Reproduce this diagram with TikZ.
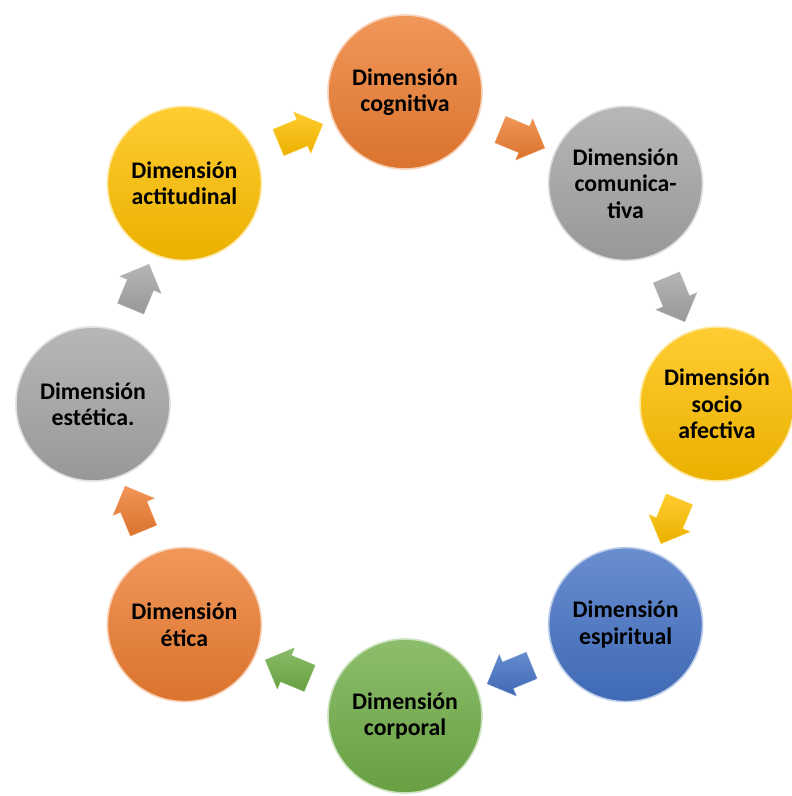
\documentclass[tikz,border=0pt]{standalone}
\usepackage{fontspec}
\setmainfont{Carlito}
\usetikzlibrary{shapes.arrows,calc}
\definecolor{corange}{HTML}{ED7D31}
\definecolor{cgray}{HTML}{A5A5A5}
\definecolor{cgold}{HTML}{FFC000}
\definecolor{cblue}{HTML}{4472C4}
\definecolor{cgreen}{HTML}{70AD47}
\tikzset{
  dimball/.style={circle, minimum size=154pt, inner sep=0pt,
    top color=#1!80!white, middle color=#1, bottom color=#1!92!black,
    draw=#1!35!white, line width=1.6pt, align=center,
    font=\fontsize{23.8}{26.5}\selectfont\bfseries, text=black},
  flowarrow/.style={single arrow, minimum height=48pt,
    inner xsep=0pt, inner ysep=14pt, text height=0pt, text depth=0pt,
    single arrow head extend=8pt,
    top color=#1!82!white, bottom color=#1!92!black, draw=#1!80!white, line width=0.4pt}
}
\begin{document}
\begin{tikzpicture}
\useasboundingbox[fill=white] (0,0) rectangle (792pt,796pt);
\coordinate (c) at (405pt,392pt);
% circles
\node[dimball=corange] (cog) at ($(c)+(90:312pt)$) {Dimensión\\cognitiva};
\node[dimball=cgray]   (com) at ($(c)+(45:312pt)$) {Dimensión\\comunica-\\tiva};
\node[dimball=cgold]   (soc) at ($(c)+(0:312pt)$) {Dimensión\\socio\\afectiva};
\node[dimball=cblue]   (esp) at ($(c)+(-45:312pt)$) {Dimensión\\espiritual};
\node[dimball=cgreen]  (cor) at ($(c)+(-90:312pt)$) {Dimensión\\corporal};
\node[dimball=corange] (eti) at ($(c)+(-135:312pt)$) {Dimensión\\ética};
\node[dimball=cgray]   (est) at ($(c)+(180:312pt)$) {Dimensión\\estética.};
\node[dimball=cgold]   (act) at ($(c)+(135:312pt)$) {Dimensión\\actitudinal};
% arrows
\node[flowarrow=corange, rotate=-22.5]  (a1) at ($(c)+(67.5:290pt)$) {};
\node[flowarrow=cgray,   rotate=-67.5]  (a2) at ($(c)+(22.5:290pt)$) {};
\node[flowarrow=cgold,   rotate=-112.5] (a3) at ($(c)+(-22.5:290pt)$) {};
\node[flowarrow=cblue,   rotate=-157.5] (a4) at ($(c)+(-67.5:290pt)$) {};
\node[flowarrow=cgreen,  rotate=157.5]  (a5) at ($(c)+(-112.5:290pt)$) {};
\node[flowarrow=corange, rotate=112.5]  (a6) at ($(c)+(-157.5:290pt)$) {};
\node[flowarrow=cgray,   rotate=67.5]   (a7) at ($(c)+(157.5:290pt)$) {};
\node[flowarrow=cgold,   rotate=22.5]   (a8) at ($(c)+(112.5:290pt)$) {};
\end{tikzpicture}
\end{document}
